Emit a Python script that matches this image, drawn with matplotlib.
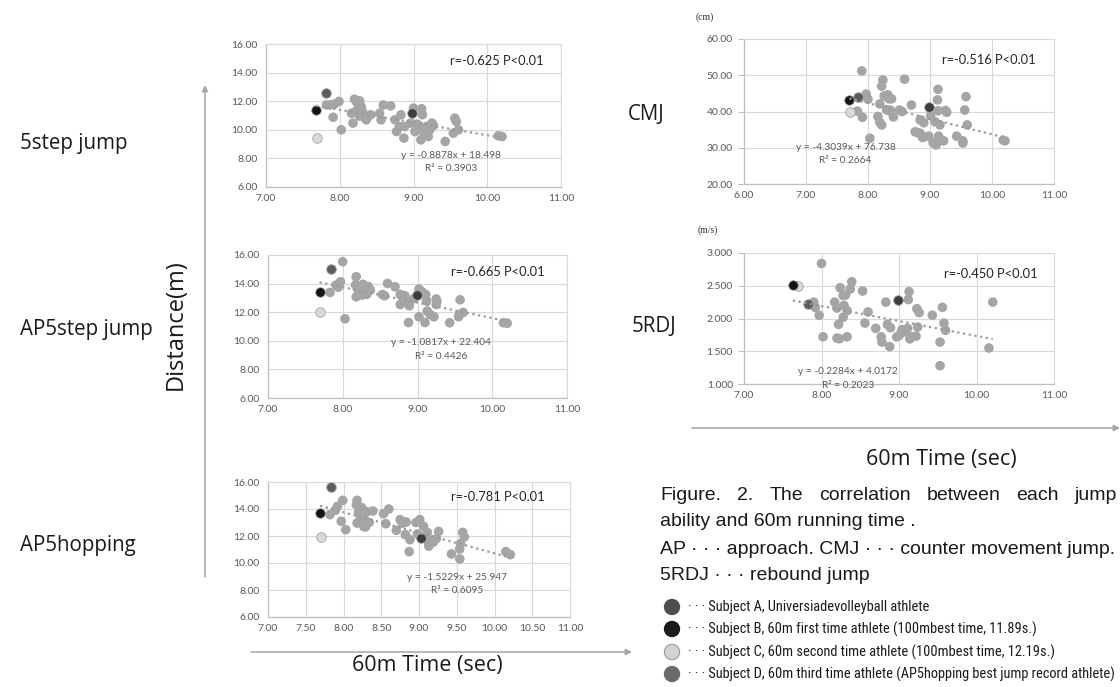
import matplotlib
matplotlib.use('Agg')
import matplotlib.pyplot as plt
from matplotlib import font_manager
from matplotlib.ticker import FormatStrFormatter, MultipleLocator

# ---------------- data ----------------
# 5step jump (m)
step5_x = [7.82, 7.87, 7.93, 7.91, 7.99, 8.02, 8.20, 8.23, 8.27, 8.18, 8.16, 8.22, 8.29, 8.27,
           8.34, 8.38, 8.36, 8.30, 8.32, 8.54, 8.56, 8.59, 8.69, 8.75, 8.77, 8.83, 8.81, 8.88,
           8.87, 8.96, 9.00, 9.02, 9.09, 9.11, 9.12, 9.10, 9.14, 9.18, 9.20, 9.25, 9.27, 9.22,
           9.43, 9.54, 9.56, 9.58, 9.61, 10.15, 10.20, 9.05, 9.17, 8.25, 8.42]
step5_y = [11.74, 11.74, 11.80, 10.88, 11.98, 10.00, 12.14, 11.95, 12.02, 10.47, 11.16, 11.27,
           11.62, 10.95, 11.00, 10.93, 10.70, 11.40, 11.10, 11.16, 10.70, 11.74, 11.67, 10.70,
           9.88, 11.05, 10.23, 10.23, 9.42, 10.47, 11.51, 9.88, 10.23, 11.47, 11.05, 9.30, 9.77,
           10.23, 9.53, 10.47, 10.30, 10.00, 9.19, 9.77, 10.81, 10.58, 10.00, 9.58, 9.53, 10.40,
           9.98, 11.55, 11.05]
# AP5step jump (m)
ap5step_x = [7.83, 7.91, 7.97, 7.94, 8.00, 8.03, 8.18, 8.17, 8.18, 8.22, 8.24, 8.26, 8.29, 8.31,
             8.34, 8.37, 8.20, 8.27, 8.53, 8.56, 8.60, 8.70, 8.77, 8.77, 8.83, 8.85, 8.89, 8.88,
             9.02, 9.02, 9.06, 9.11, 9.12, 9.10, 9.13, 9.17, 9.22, 9.25, 9.25, 9.26, 9.43, 9.55,
             9.56, 9.57, 9.61, 10.15, 10.20, 8.95, 8.32]
ap5step_y = [13.38, 13.90, 14.13, 13.75, 15.53, 11.54, 14.48, 13.90, 13.08, 13.78, 13.55, 13.20,
             13.70, 13.45, 13.80, 13.55, 13.62, 13.95, 13.24, 13.15, 14.01, 13.78, 13.24, 12.54,
             13.15, 12.85, 12.45, 11.28, 13.62, 11.68, 13.43, 13.24, 12.78, 11.28, 12.08, 11.84,
             11.68, 12.92, 12.54, 12.75, 11.26, 11.68, 11.85, 12.87, 11.98, 11.26, 11.23, 12.95,
             13.25]
# AP5hopping (m)
ap5hop_x = [7.82, 7.89, 7.92, 7.99, 7.97, 8.03, 8.18, 8.17, 8.20, 8.18, 8.22, 8.24, 8.27, 8.31,
            8.29, 8.27, 8.34, 8.39, 8.53, 8.56, 8.60, 8.70, 8.75, 8.78, 8.83, 8.82, 8.88, 8.87,
            8.96, 9.01, 9.06, 9.11, 9.13, 9.15, 9.19, 9.23, 9.26, 9.13, 9.43, 9.54, 9.54, 9.55,
            9.58, 9.60, 10.15, 10.21, 8.98]
ap5hop_y = [13.58, 13.90, 14.20, 14.64, 13.09, 12.47, 14.64, 14.32, 13.75, 12.96, 13.50, 14.10,
            13.30, 13.80, 12.67, 12.70, 13.00, 13.85, 13.65, 12.91, 14.00, 12.42, 13.21, 12.95,
            13.04, 12.10, 11.73, 10.84, 13.00, 13.21, 12.72, 12.27, 11.48, 11.70, 11.55, 11.80,
            12.34, 11.25, 10.67, 10.30, 11.04, 11.43, 12.27, 11.93, 10.84, 10.62, 12.15]
# CMJ (cm)
cmj_x = [7.90, 7.83, 7.91, 7.97, 8.00, 8.03, 8.16, 8.19, 8.22, 8.22, 8.24, 8.19, 8.26, 8.30, 8.32,
         8.34, 8.34, 8.38, 8.36, 8.41, 8.59, 8.51, 8.55, 8.70, 8.76, 8.84, 8.84, 8.90, 8.90, 8.98,
         9.01, 9.05, 9.08, 9.12, 9.13, 9.13, 9.10, 9.14, 9.16, 9.22, 9.25, 9.27, 9.43, 9.53, 9.53,
         9.58, 9.56, 9.60, 10.18, 10.21, 8.80, 8.88]
cmj_y = [51.2, 40.1, 38.4, 44.8, 43.4, 32.6, 38.6, 37.0, 36.3, 47.0, 48.7, 42.1, 44.3, 40.5, 44.6,
         43.5, 40.2, 43.5, 40.4, 38.5, 48.9, 40.4, 40.0, 41.8, 34.4, 37.7, 34.0, 33.0, 36.9, 33.2,
         38.8, 31.4, 37.2, 43.2, 46.1, 40.2, 30.8, 33.2, 36.3, 31.9, 40.3, 39.8, 33.2, 31.9, 31.3,
         44.1, 40.4, 36.3, 32.1, 31.9, 34.2, 32.8]
# 5RDJ (m/s)
rdj_x = [7.85, 7.90, 7.92, 7.97, 8.00, 8.02, 8.17, 8.20, 8.22, 8.20, 8.23, 8.24, 8.28, 8.29, 8.31,
         8.28, 8.33, 8.37, 8.39, 8.33, 8.53, 8.56, 8.60, 8.70, 8.77, 8.78, 8.83, 8.85, 8.89, 8.88,
         8.97, 9.00, 9.04, 9.07, 9.11, 9.12, 9.13, 9.14, 9.16, 9.22, 9.23, 9.26, 9.24, 9.43, 9.53,
         9.53, 9.56, 9.58, 9.60, 10.16, 10.21, 9.03]
rdj_y = [2.21, 2.25, 2.17, 2.05, 2.84, 1.72, 2.25, 2.16, 1.91, 1.70, 1.69, 2.47, 2.35, 2.20, 2.36,
         2.02, 2.12, 2.45, 2.56, 1.72, 2.42, 1.93, 2.10, 1.85, 1.72, 1.64, 2.25, 1.91, 1.86, 1.57,
         1.72, 1.74, 1.83, 1.80, 1.85, 2.29, 2.41, 1.69, 1.72, 1.73, 2.15, 2.09, 1.87, 2.05, 1.64,
         1.28, 2.17, 1.93, 1.82, 1.55, 2.25, 1.78]

# highlighted subjects, per panel order: 5step, AP5step, AP5hopping, CMJ, 5RDJ
subjA_x = [8.98, 8.99, 9.02, 8.99, 8.99]
subjA_y = [11.15, 13.20, 11.88, 41.3, 2.29]
subjB_x = [7.68, 7.69, 7.69, 7.70, 7.63]
subjB_y = [11.40, 13.42, 13.72, 43.2, 2.508]
subjC_x = [7.69, 7.70, 7.70, 7.71, 7.70]
subjC_y = [9.42, 11.98, 11.93, 39.95, 2.49]
subjD_x = [7.82, 7.84, 7.84, 7.84, 7.83]
subjD_y = [12.56, 15.00, 15.63, 43.9, 2.22]

slopes = [-0.8878, -1.0817, -1.5229, -4.3039, -0.2284]
intercepts = [18.498, 22.404, 25.947, 76.738, 4.0172]
eq_texts = ["y = -0.8878x + 18.498", "y = -1.0817x + 22.404", "y = -1.5229x + 25.947",
            "y = -4.3039x + 76.738", "y = -0.2284x + 4.0172"]
r2_texts = ["R² = 0.3903", "R² = 0.4426", "R² = 0.6095", "R² = 0.2664", "R² = 0.2023"]
r_texts = ["r=-0.625 P<0.01", "r=-0.665 P<0.01", "r=-0.781 P<0.01",
           "r=-0.516 P<0.01", "r=-0.450 P<0.01"]
row_labels = ["5step jump", "AP5step jump", "AP5hopping", "CMJ", "5RDJ"]

legend_labels = ["· · · Subject A, Universiadevolleyball athlete",
                 "· · · Subject B, 60m first time athlete (100mbest time, 11.89s.)",
                 "· · · Subject C, 60m second time athlete (100mbest time, 12.19s.)",
                 "· · · Subject D, 60m third time athlete (AP5hopping best jump record athlete)"]

# ---------------- layout / style ----------------
W, H = 1120, 687
fig = plt.figure(figsize=(W / 100, H / 100), dpi=100)

def rect(l, t, r, b):
    return [l / W, 1 - b / H, (r - l) / W, (b - t) / H]

GRAY = '#a5a5a5'
COL_A, COL_B, COL_C, COL_D = '#3d3d3d', '#141414', '#d9d9d9', '#5c5c5c'
TICK_FONT = 'Lato'
MS = 48

panels = [
    dict(x=step5_x, y=step5_y, rect=rect(266, 44, 561, 187), xlim=(7, 11), xstep=1.0,
         ylim=(6, 16), ystep=2, yfmt='%.2f', eq_pos=(9.51, 8.19, 7.26), r_pos=(10.13, 14.84),
         yticks=False),
    dict(x=ap5step_x, y=ap5step_y, rect=rect(268, 255, 567, 398), xlim=(7, 11), xstep=1.0,
         ylim=(6, 16), ystep=2, yfmt='%.2f', eq_pos=(9.32, 9.88, 8.93), r_pos=(10.08, 14.79),
         yticks=False),
    dict(x=ap5hop_x, y=ap5hop_y, rect=rect(268, 482, 570, 617), xlim=(7, 11), xstep=0.5,
         ylim=(6, 16), ystep=2, yfmt='%.2f', eq_pos=(9.50, 8.96, 7.98), r_pos=(10.05, 14.89),
         yticks=False),
    dict(x=cmj_x, y=cmj_y, rect=rect(744, 39, 1054, 184), xlim=(6, 11), xstep=1.0,
         ylim=(20, 60), ystep=10, yfmt='%.2f', eq_pos=(7.64, 30.1, 26.4), r_pos=(9.95, 54.2),
         yticks=True),
    dict(x=rdj_x, y=rdj_y, rect=rect(744, 253, 1054, 384), xlim=(7, 11), xstep=1.0,
         ylim=(1, 3), ystep=0.5, yfmt='%.3f', eq_pos=(8.34, 1.19, 0.975), r_pos=(10.18, 2.685),
         yticks=True),
]

for i, p in enumerate(panels):
    ax = fig.add_axes(p['rect'])
    ax.set_xlim(*p['xlim'])
    ax.set_ylim(*p['ylim'])
    ax.xaxis.set_major_locator(MultipleLocator(p['xstep']))
    ax.yaxis.set_major_locator(MultipleLocator(p['ystep']))
    ax.xaxis.set_major_formatter(FormatStrFormatter('%.2f'))
    ax.yaxis.set_major_formatter(FormatStrFormatter(p['yfmt']))
    ax.grid(True, color='#d9d9d9', lw=0.8, zorder=0)
    ax.set_axisbelow(True)
    for side in ['top', 'right']:
        ax.spines[side].set_color('#d9d9d9')
        ax.spines[side].set_linewidth(0.8)
    for side in ['left', 'bottom']:
        ax.spines[side].set_color('#bfbfbf')
        ax.spines[side].set_linewidth(0.9)
    ax.tick_params(axis='x', length=0, pad=5, labelsize=7.5, labelcolor='#595959')
    ax.tick_params(axis='y', length=4 if p['yticks'] else 0, color='#bfbfbf',
                   pad=6 if not p['yticks'] else 4, labelsize=7.5, labelcolor='#595959')
    for lab in ax.get_xticklabels() + ax.get_yticklabels():
        lab.set_fontfamily(TICK_FONT)

    ax.scatter(p['x'], p['y'], s=MS, color=GRAY, edgecolors='none', zorder=3)
    # subjects
    ax.scatter([subjD_x[i]], [subjD_y[i]], s=MS, color=COL_D, edgecolors=GRAY, linewidths=0.6, zorder=4)
    ax.scatter([subjA_x[i]], [subjA_y[i]], s=MS, color=COL_A, edgecolors=GRAY, linewidths=0.6, zorder=4)
    ax.scatter([subjC_x[i]], [subjC_y[i]], s=MS, color=COL_C, edgecolors=GRAY, linewidths=0.6, zorder=4)
    ax.scatter([subjB_x[i]], [subjB_y[i]], s=MS, color=COL_B, edgecolors=GRAY, linewidths=0.6, zorder=5)

    allx = list(p['x']) + [subjA_x[i], subjB_x[i], subjC_x[i], subjD_x[i]]
    x0, x1 = min(allx), max(allx)
    ax.plot([x0, x1], [slopes[i] * x0 + intercepts[i], slopes[i] * x1 + intercepts[i]],
            ls=(0, (1, 1.6)), color='#9a9a9a', lw=1.6, zorder=6)

    ex, ey, ry = p['eq_pos']
    ax.text(ex, ey, eq_texts[i], ha='center', va='center', fontsize=7.3, color='#595959',
            family=TICK_FONT, zorder=7, clip_on=False)
    ax.text(ex, ry, r2_texts[i], ha='center', va='center', fontsize=7.3, color='#595959',
            family=TICK_FONT, zorder=7, clip_on=False)
    ax.text(p['r_pos'][0], p['r_pos'][1], r_texts[i], ha='center', va='center', fontsize=9.3,
            color='#262626', family=TICK_FONT, zorder=7)

# ---------------- overlay in pixel coordinates ----------------
ov = fig.add_axes([0, 0, 1, 1])
ov.set_xlim(0, W)
ov.set_ylim(H, 0)
ov.axis('off')
ov.patch.set_alpha(0)

LABEL_FONT = 'Open Sans'
LABEL_SIZE = 14.8
label_pos = [(20, 143), (20, 330), (20, 545), (628, 115), (632, 327)]
for (lx, ly), txt in zip(label_pos, row_labels):
    ov.text(lx, ly, txt, ha='left', va='center', fontsize=LABEL_SIZE, family=LABEL_FONT,
            color='#1a1a1a')

ov.text(176, 325, "Distance(m)", rotation=90, ha='center', va='center', fontsize=17,
        family=LABEL_FONT, color='#1a1a1a')
ov.text(427, 665, "60m Time (sec)", ha='center', va='center', fontsize=15.5,
        family=LABEL_FONT, color='#1a1a1a')
ov.text(941, 460, "60m Time (sec)", ha='center', va='center', fontsize=15.5,
        family=LABEL_FONT, color='#1a1a1a')

ov.text(705, 17, "(cm)", ha='center', va='center', fontsize=7, family='Liberation Serif', color='#333333')
ov.text(708, 230, "(m/s)", ha='center', va='center', fontsize=7, family='Liberation Serif', color='#333333')

arrow_kw = dict(arrowstyle='-|>', color='#a6a6a6', lw=1.1, mutation_scale=9, shrinkA=0, shrinkB=0)
ov.annotate('', xy=(205, 85), xytext=(205, 577), arrowprops=arrow_kw)
ov.annotate('', xy=(632, 652), xytext=(251, 652), arrowprops=arrow_kw)
ov.annotate('', xy=(1120, 428), xytext=(692, 428), arrowprops=arrow_kw)

# caption (first line justified)
CAP_FONT = 'Liberation Sans'
CAP_SIZE = 14.0
fig.canvas.draw()
renderer = fig.canvas.get_renderer()
words = "Figure. 2. The correlation between each jump".split()
objs = [ov.text(0, 496, w, ha='left', va='center', fontsize=CAP_SIZE, family=CAP_FONT,
                color='#1a1a1a') for w in words]
widths = [o.get_window_extent(renderer).width for o in objs]
x_start, x_end = 660, 1117
gap = (x_end - x_start - sum(widths)) / (len(words) - 1)
cx = x_start
for o, wdt in zip(objs, widths):
    o.set_x(cx)
    cx += wdt + gap

ov.text(660, 521, "ability and 60m running time .", ha='left', va='center', fontsize=CAP_SIZE,
        family=CAP_FONT, color='#1a1a1a')
ov.text(660, 550, "AP · · · approach. CMJ · · · counter movement jump.", ha='left', va='center',
        fontsize=CAP_SIZE, family=CAP_FONT, color='#1a1a1a')
ov.text(660, 575, "5RDJ · · · rebound jump", ha='left', va='center', fontsize=CAP_SIZE,
        family=CAP_FONT, color='#1a1a1a')

# condensed font for the legend if one is installed
narrow_prop = None
for f in font_manager.fontManager.ttflist:
    fn = f.fname.lower()
    if ('narrow' in fn or 'condensed' in fn) and 'bold' not in fn and 'italic' not in fn \
            and 'oblique' not in fn:
        narrow_prop = f.fname
        if 'liberationsansnarrow' in fn.replace('-', '').replace('_', ''):
            break

leg_y = [607, 629, 652, 674]
leg_fc = ['#4d4d4d', '#1a1a1a', '#d4d4d4', '#6b6b6b']
leg_ec = ['#4d4d4d', '#1a1a1a', '#9a9a9a', '#6b6b6b']
ov.scatter([672] * 4, leg_y, s=120, c=leg_fc, edgecolors=leg_ec, linewidths=0.8, clip_on=False)
for yy, txt in zip(leg_y, legend_labels):
    if narrow_prop:
        fp = font_manager.FontProperties(fname=narrow_prop, size=10.4)
        ov.text(688, yy, txt, ha='left', va='center', fontproperties=fp, color='#1a1a1a')
    else:
        ov.text(688, yy, txt, ha='left', va='center', fontsize=9.2, family='Liberation Sans',
                color='#1a1a1a')

fig.savefig('out.png', dpi=100)
